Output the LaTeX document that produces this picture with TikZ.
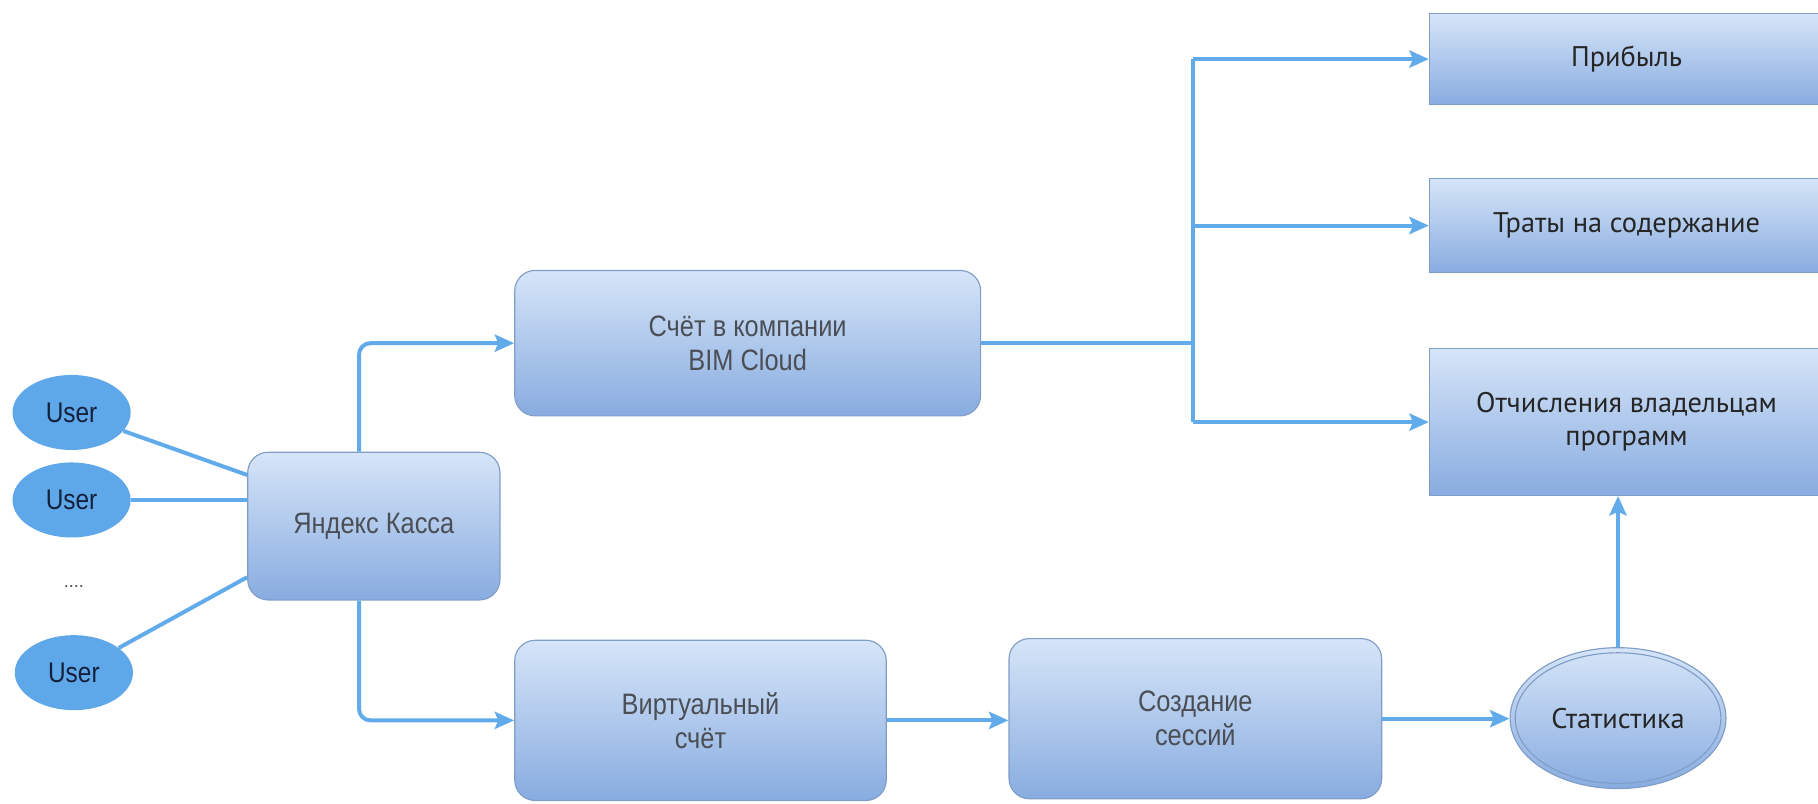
\documentclass[tikz,border=0pt]{standalone}
\usepackage{fontspec}
\setmainfont{Liberation Sans}
\newfontfamily\narrowf[FakeStretch=0.86]{Liberation Sans}
\newfontfamily\tahf{PT Sans}
\usetikzlibrary{arrows.meta,shapes.geometric,calc}
\definecolor{boxtop}{HTML}{D6E5F8}
\definecolor{boxbot}{HTML}{88ACE0}
\definecolor{boxline}{HTML}{7F9DC6}
\definecolor{connc}{HTML}{62ABEA}
\definecolor{userfill}{HTML}{5EA8EA}
\definecolor{usertext}{HTML}{15213C}
\definecolor{graytext}{HTML}{4B4E55}
\begin{document}
\begin{tikzpicture}[x=1pt,y=-1pt,
  boxbase/.style={draw=boxline, line width=1pt, top color=boxtop, bottom color=boxbot, align=center, inner sep=0pt},
  rbox/.style={boxbase, rounded corners=18pt, font=\narrowf\fontsize{26}{30}\selectfont, text=graytext},
  sbox/.style={boxbase, font=\tahf\fontsize{25}{29}\selectfont, text=black!85},
  user/.style={ellipse, fill=userfill, minimum width=104pt, minimum height=66pt, font=\narrowf\fontsize{25}{28}\selectfont, text=usertext, inner sep=0pt},
  conn/.style={draw=connc, line width=3.5pt},
  arr/.style={conn, -{Stealth[length=17pt,width=15pt,inset=3pt]}},
]
\useasboundingbox (0,0) rectangle (1600,707);
\clip (0,0) rectangle (1600,707);

% users
\node[user] (u1) at (63,363) {User};
\node[user] (u2) at (63,440) {User};
\node[font=\fontsize{16}{18}\selectfont, text=black!70] (dots) at (65,516) {....};
\node[user] (u3) at (65,592) {User};

% main boxes
\node[rbox, minimum width=222pt, minimum height=130pt] (kassa) at (329,463) {Яндекс Касса};
\node[rbox, minimum width=410pt, minimum height=128pt] (bim) at (658,302) {Счёт в компании\\BIM Cloud};
\node[rbox, minimum width=327pt, minimum height=141pt] (virt) at (616.5,634) {Виртуальный\\счёт};
\node[rbox, minimum width=328pt, minimum height=141pt] (sozd) at (1052,632.5) {Создание\\сессий};

% statistics (double ellipse)
\node[ellipse, boxbase, minimum width=190pt, minimum height=124pt] (stat) at (1424,632) {};
\node[ellipse, draw=boxline, line width=1pt, minimum width=181pt, minimum height=115pt, font=\tahf\fontsize{25}{29}\selectfont, text=black!85] (statin) at (stat) {Статистика};

% right boxes
\node[sbox, minimum width=347pt, minimum height=80pt] (prib) at (1431.5,52) {Прибыль};
\node[sbox, minimum width=347pt, minimum height=83pt] (trat) at (1431.5,198.5) {Траты на содержание};
\node[sbox, minimum width=347pt, minimum height=129pt] (otch) at (1431.5,371.5) {Отчисления владельцам\\программ};

% helper coordinates
\coordinate (jx) at (316,0);
\coordinate (jn) at (1050,0);

% user connectors
\draw[conn] (u1) -- ($(kassa.west)+(0,-45)$);
\draw[conn] (u2.east) -- (u2.east -| kassa.west);
\draw[conn] (u3) -- ($(kassa.west)+(0,45)$);

% flows
\draw[arr, rounded corners=10pt] (kassa.north -| jx) |- (bim.west);
\draw[arr, rounded corners=10pt] (kassa.south -| jx) |- (virt.west);
\draw[conn] (bim.east) -- (bim.east -| jn);
\draw[conn] (jn |- prib.west) -- (jn |- otch.west);
\draw[arr] (jn |- prib.west) -- (prib.west);
\draw[arr] (jn |- trat.west) -- (trat.west);
\draw[arr] (jn |- otch.west) -- (otch.west);
\draw[arr] (virt.east) -- (virt.east -| sozd.west);
\draw[arr] (sozd.east) -- (sozd.east -| stat.west);
\draw[arr] (stat.north) -- (stat.north |- otch.south);
\end{tikzpicture}
\end{document}
